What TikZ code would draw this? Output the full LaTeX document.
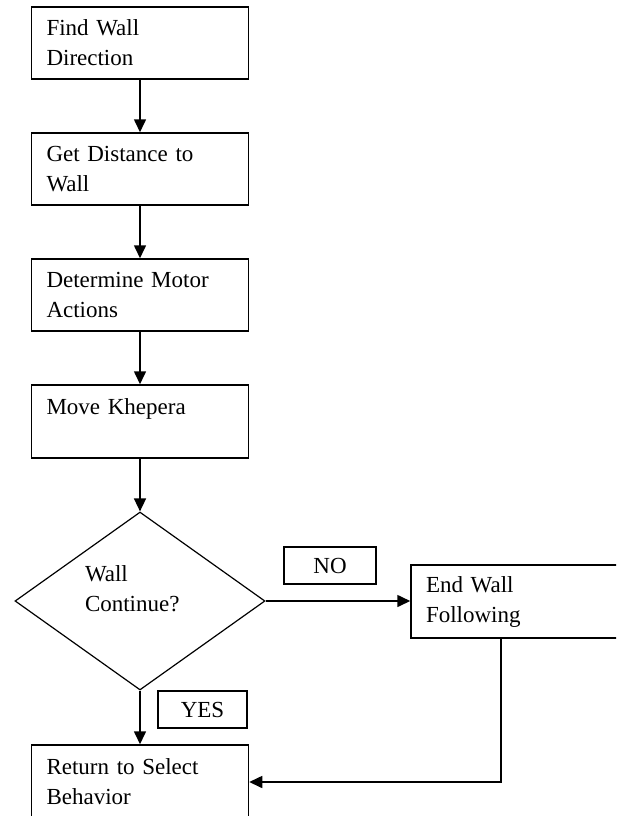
\documentclass[tikz,border=0pt]{standalone}
\usepackage{fontspec}
\setmainfont{Liberation Serif}
\usetikzlibrary{shapes.geometric,arrows.meta}
\begin{document}
\begin{tikzpicture}[x=1pt,y=-1pt,
  every node/.style={font=\fontsize{23}{30}\selectfont},
  stepbox/.style={draw, line width=1.5pt, minimum width=217pt, minimum height=72pt,
    text width=187pt, inner xsep=15pt, inner ysep=0pt, align=left},
  decision/.style={draw, diamond, line width=1.2pt, minimum width=250pt,
    minimum height=178pt, aspect=1.4, inner sep=0pt, text width=110pt,
    align=left, text depth=54pt},
  tag/.style={draw, line width=1.5pt, minimum height=37pt, inner sep=0pt},
  flow/.style={line width=1.6pt, -{Triangle[length=13pt,width=12pt]}}]
  \useasboundingbox (0,0) rectangle (616,816);
  \clip (0,0) rectangle (616,816);

  % main column of steps
  \node[stepbox] (find) at (140,43) {Find Wall\\Direction};
  \node[stepbox] (dist) at (140,169) {Get Distance to\\Wall};
  \node[stepbox] (motor) at (140,295) {Determine Motor\\Actions};
  \node[stepbox, minimum height=73pt] (move) at (140,421.5) {Move Khepera\\\mbox{}};
  \node[decision] (wall) at (140,601) {Wall\\Continue?};
  \node[stepbox, minimum width=260pt, text width=230pt, minimum height=73pt]
    (endw) at (541,601.5) {End Wall\\Following};
  \node[stepbox, minimum height=74pt] (ret) at (140,782) {Return to Select\\Behavior};

  % branch labels
  \node[tag, minimum width=92pt] (no) at (330,565.5) {NO};
  \node[tag, minimum width=89pt] (yes) at (202.5,709.5) {YES};

  % connectors
  \draw[flow] (find) -- (dist);
  \draw[flow] (dist) -- (motor);
  \draw[flow] (motor) -- (move);
  \draw[flow] (move.south) -- (wall.north);
  \draw[flow] (wall.east) -- (wall.east -| endw.west);
  \draw[flow] (wall.south) -- (ret.north);
  \draw[flow] ([xshift=91pt]endw.south west) |- (ret.east);
\end{tikzpicture}
\end{document}
